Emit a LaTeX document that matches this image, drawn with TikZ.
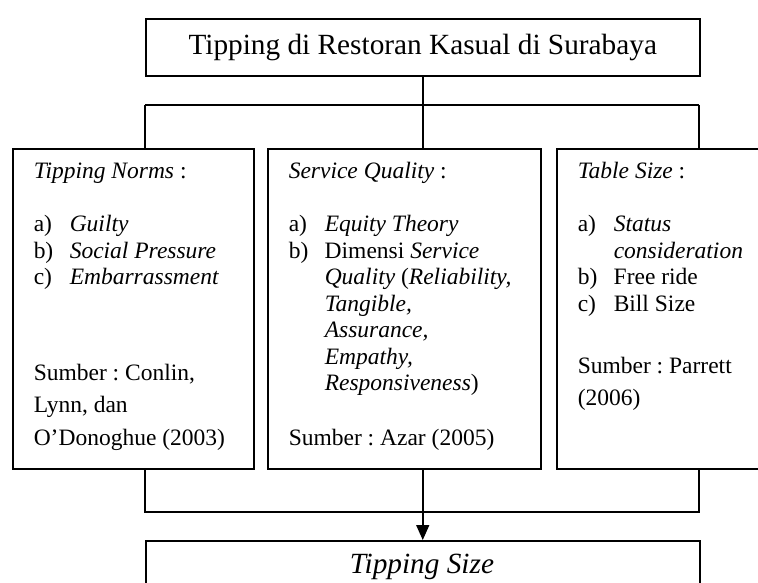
\documentclass[tikz,border=0pt]{standalone}
\usepackage{fontspec}
\setmainfont{Liberation Serif}
\usetikzlibrary{arrows.meta}
\frenchspacing
\begin{document}
\begin{tikzpicture}[x=1pt,y=-1pt, line width=1.5pt,
  frame/.style={draw, rectangle, inner sep=0pt, anchor=north west},
  bigtxt/.style={font=\fontsize{29.3}{34}\selectfont},
  txt/.style={anchor=base west, inner sep=0pt, align=left, font=\fontsize{23.5}{27}\selectfont},
  lst/.style={anchor=north west, inner sep=0pt, font=\fontsize{23.5}{26.5}\selectfont},
  conn/.style={line width=1.5pt},
  arr/.style={line width=1.5pt, -{Triangle[length=15pt,width=13pt]}}
]
\useasboundingbox (0,0) rectangle (758,582);
\clip (0,0) rectangle (758,582);
% boxes
\node[frame, minimum width=554pt, minimum height=57pt, bigtxt] (top) at (145,18) {Tipping di Restoran Kasual di Surabaya};
\node[frame, minimum width=241pt, minimum height=320pt] (bl) at (12,148) {};
\node[frame, minimum width=273pt, minimum height=320pt] (bm) at (267,148) {};
\node[frame, minimum width=230pt, minimum height=320pt] (br) at (556,148) {};
\node[frame, minimum width=554pt, minimum height=80pt] (bot) at (145,540) {};
\node[bigtxt, anchor=base, inner sep=0pt] (bottxt) at (422,573) {\itshape Tipping Size};
% left text
\node[txt] (h1) at (33,178) {\textit{Tipping Norms} :};
\node[lst] (l1) at (33,212.5) {\begin{tabular}{@{}p{36pt}@{}l@{}}
a) & \textit{Guilty}\\
b) & \textit{Social Pressure}\\
c) & \textit{Embarrassment}
\end{tabular}};
\node[txt] (s1a) at (33,380) {Sumber : Conlin,};
\node[txt] (s1b) at (33,412) {Lynn, dan};
\node[txt] (s1c) at (33,445) {O’Donoghue (2003)};
% middle text
\node[txt] (h2) at (288,178) {\textit{Service Quality} :};
\node[lst] (l2) at (288,212.5) {\begin{tabular}{@{}p{36pt}@{}l@{}}
a) & \textit{Equity Theory}\\
b) & Dimensi \textit{Service}\\
 & \textit{Quality} (\textit{Reliability,}\\
 & \textit{Tangible,}\\
 & \textit{Assurance,}\\
 & \textit{Empathy,}\\
 & \textit{Responsiveness})
\end{tabular}};
\node[txt] (s2) at (288,445) {Sumber : Azar (2005)};
% right text
\node[txt] (h3) at (577,178) {\textit{Table Size} :};
\node[lst] (l3) at (577,212.5) {\begin{tabular}{@{}p{36pt}@{}l@{}}
a) & \textit{Status}\\
 & \textit{consideration}\\
b) & Free ride\\
c) & Bill Size
\end{tabular}};
\node[txt] (s3a) at (577,373) {Sumber : Parrett};
\node[txt] (s3b) at (577,405) {(2006)};
% connectors
\coordinate (jt) at (top.south |- 0,105);
\coordinate (jl) at (145,105);
\coordinate (jr) at (699,105);
\draw[conn] (top.south) -- (jt);
\draw[conn] (jl) -- (jr);
\draw[conn] (jl) -- (jl |- bl.north);
\draw[conn] (jr) -- (jr |- br.north);
\draw[conn] (jt) -- (jt |- bm.north);
\coordinate (kl) at (145,512);
\coordinate (kr) at (699,512);
\draw[conn] (kl |- bl.south) -- (kl) -- (kr) -- (kr |- br.south);
\draw[arr] (top.south |- bm.south) -- (top.south |- bot.north);
\end{tikzpicture}
\end{document}
